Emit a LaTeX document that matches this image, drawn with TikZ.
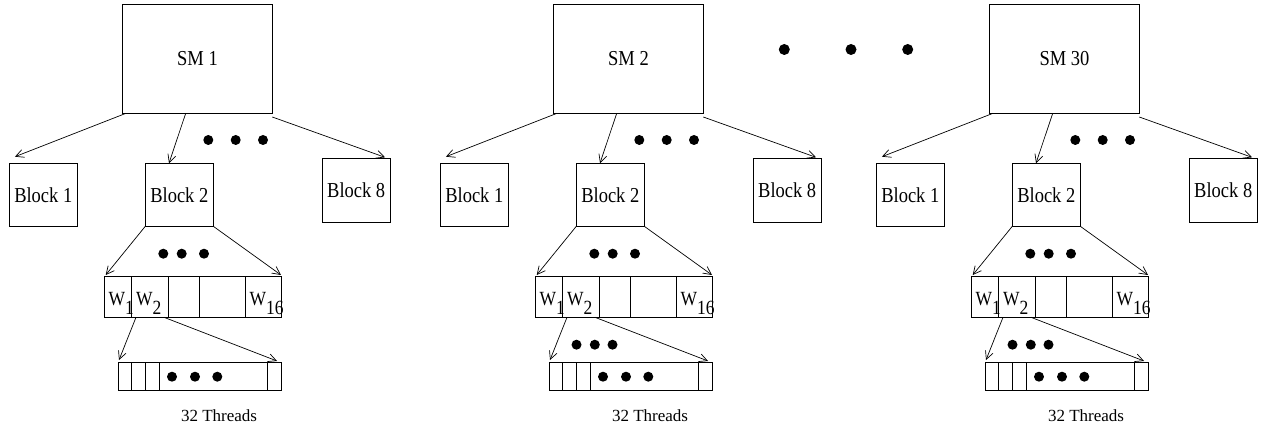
\documentclass[tikz,border=0pt]{standalone}
\usepackage{graphicx}
\usepackage{fontspec}
\setmainfont{Liberation Serif}
\usetikzlibrary{arrows.meta}
\newcommand{\vstr}[1]{\scalebox{1}[1.15]{#1}}
\newcommand{\wsub}[2]{\vstr{#1}\raisebox{-9pt}{\vstr{#2}}}
\tikzset{
  box/.style={draw, line width=0.8pt, inner sep=0pt, outer sep=0pt, rectangle},
  lbl/.style={font=\fontsize{18.5}{20}\selectfont},
  wlbl/.style={font=\fontsize{17.5}{19}\selectfont, inner sep=0pt, anchor=base west},
  tlbl/.style={font=\fontsize{17}{19}\selectfont, inner sep=0pt, anchor=base},
  conn/.style={line width=0.7pt, -{Straight Barb[length=8pt,width=8pt]}},
  dotn/.style={circle, fill, inner sep=0pt, minimum size=10pt},
  bigdot/.style={circle, fill, inner sep=0pt, minimum size=11pt},
  cell/.style={box, minimum height=40.6pt, anchor=north west},
  tcell/.style={box, minimum height=27.7pt, anchor=north west},
}
\newcommand{\drawgroup}[4]{%
\begin{scope}[xshift=#1pt]
  % SM and blocks
  \node[box, minimum width=149.6pt, minimum height=109pt, lbl] (#2sm) at (197.5,58.8) {\vstr{#3}};
  \node[box, minimum width=68.7pt, minimum height=63.4pt, lbl] (#2b1) at (43.3,195) {\vstr{Block 1}};
  \node[box, minimum width=68pt, minimum height=63pt, lbl] (#2b2) at (179.3,194.8) {\vstr{Block 2}};
  \node[box, minimum width=68.3pt, minimum height=63.3pt, lbl] (#2b8) at (356.2,190.3) {\vstr{Block 8}};
  \draw[conn] ([xshift=3.3pt]#2sm.south west) -- ([xshift=6pt,yshift=6.6pt]#2b1.north west);
  \draw[conn] ([xshift=63pt]#2sm.south west) -- ([xshift=23.7pt]#2b2.north west);
  \draw[conn] ([yshift=-3.7pt]#2sm.south east) -- ([xshift=-5.3pt,yshift=1.3pt]#2b8.north east);
  \node[dotn] (#2da) at (208.3,140) {};
  \node[dotn] (#2db) at (235.7,140) {};
  \node[dotn] (#2dc) at (263,140) {};
  % warps
  \node[cell, minimum width=27.4pt] (#2w1) at (104.3,276.7) {};
  \node[cell, minimum width=36.3pt] (#2w2) at (131.7,276.7) {};
  \node[cell, minimum width=31.7pt] (#2w3) at (168,276.7) {};
  \node[cell, minimum width=45.6pt] (#2w4) at (199.7,276.7) {};
  \node[cell, minimum width=36pt] (#2w16) at (245.3,276.7) {};
  \node[wlbl] (#2lw1) at (108.5,305.3) {\wsub{W}{1}};
  \node[wlbl] (#2lw2) at (136,305.3) {\wsub{W}{2}};
  \node[wlbl] (#2lw16) at (249.5,305.3) {\wsub{W}{16}};
  \draw[conn] (#2b2.south west) -- ([xshift=1.4pt,yshift=1.7pt]#2w1.north west);
  \draw[conn] (#2b2.south east) -- ([xshift=-0.3pt,yshift=1.7pt]#2w16.north east);
  \node[dotn] (#2ea) at (163.3,253.7) {};
  \node[dotn] (#2eb) at (181.7,253.7) {};
  \node[dotn] (#2ec) at (204,253.7) {};
  % threads
  \node[tcell, minimum width=13.4pt] (#2t1) at (118.3,362.3) {};
  \node[tcell, minimum width=13.3pt] (#2t2) at (131.7,362.3) {};
  \node[tcell, minimum width=14pt] (#2t3) at (145,362.3) {};
  \node[tcell, minimum width=108.7pt] (#2t4) at (159,362.3) {};
  \node[tcell, minimum width=14pt] (#2t32) at (267.7,362.3) {};
  \draw[conn] ([xshift=4.3pt]#2w2.south west) -- ([xshift=0.7pt,yshift=2.3pt]#2t1.north west);
  \draw[conn] ([xshift=-4pt]#2w2.south east) -- ([xshift=-4.7pt,yshift=1.3pt]#2t32.north east);
  \node[dotn] (#2fa) at (172,376.7) {};
  \node[dotn] (#2fb) at (195,376.7) {};
  \node[dotn] (#2fc) at (217.3,376.7) {};
  \ifnum#4=1
  \node[dotn] (#2ga) at (145.5,344.7) {};
  \node[dotn] (#2gb) at (163.8,344.7) {};
  \node[dotn] (#2gc) at (181.5,344.7) {};
  \fi
  \node[tlbl] (#2lab) at (219,421.5) {32 Threads};
\end{scope}}
\begin{document}
\begin{tikzpicture}[x=1pt,y=-1pt]
  \useasboundingbox (0,0) rectangle (1269,430);
  \drawgroup{0}{A}{SM 1}{0}
  \drawgroup{431}{B}{SM 2}{1}
  \drawgroup{867}{C}{SM 30}{1}
  \node[bigdot] (top1) at (784.3,49.5) {};
  \node[bigdot] (top2) at (851,49.5) {};
  \node[bigdot] (top3) at (907.7,49.5) {};
\end{tikzpicture}
\end{document}
